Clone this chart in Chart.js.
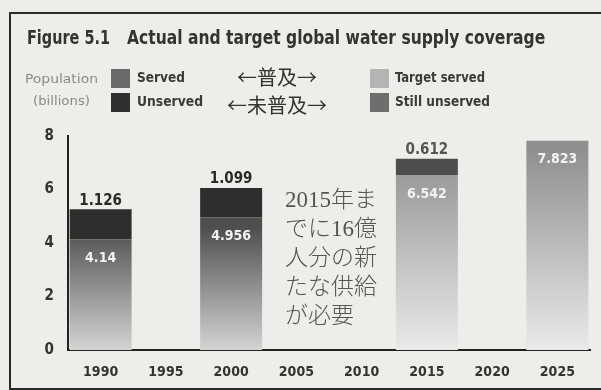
<!DOCTYPE html>
<html><head><meta charset="utf-8">
<script src="https://cdn.jsdelivr.net/npm/chart.js@4.4.0/dist/chart.umd.min.js"></script>
<style>
body{margin:0;background:#ededeb;width:601px;height:390px;overflow:hidden;position:relative;font-family:"Liberation Sans Narrow","DejaVu Sans Condensed",sans-serif;color:#333}
#frame{position:absolute;left:9px;top:12px;width:600px;height:374px;border:2px solid #2b2b2b}
canvas{position:absolute;left:0;top:0}
.t{position:absolute;white-space:nowrap;transform-origin:0 0}
.title{top:26px;font-size:19px;font-weight:bold;color:#333}
.pop{font-size:13px;color:#8a8a8a}
.sw{position:absolute;width:19px;height:19px}
.lg{font-size:14px;font-weight:bold;color:#3a3a3a}
.jp{font-family:"Noto Sans CJK JP";font-size:20px;color:#333}
.note{left:285px;top:185px;font-family:"Liberation Serif","Noto Sans CJK JP";font-size:23px;line-height:29px;color:#555;font-weight:300}
</style></head>
<body>
<div id="frame"></div>
<canvas id="c" width="601" height="390"></canvas>
<div class="t title" data-w="83" style="left:27px">Figure 5.1</div>
<div class="t title" data-w="418" style="left:127px">Actual and target global water supply coverage</div>
<div class="t pop" data-w="73" style="left:25px;top:71px">Population</div>
<div class="t pop" data-w="57" style="left:33px;top:93px">(billions)</div>
<div class="sw" style="left:111px;top:69px;background:#6a6a6a"></div>
<div class="t lg" data-w="48" style="left:137px;top:69px">Served</div>
<div class="sw" style="left:111px;top:93px;background:#303030"></div>
<div class="t lg" data-w="66" style="left:137px;top:93px">Unserved</div>
<div class="t jp" style="left:237px;top:62px">←普及→</div>
<div class="t jp" style="left:227px;top:90px">←未普及→</div>
<div class="sw" style="left:370px;top:69px;background:#b4b4b4"></div>
<div class="t lg" data-w="90" style="left:395px;top:69px">Target served</div>
<div class="sw" style="left:370px;top:93px;background:#6e6e6e"></div>
<div class="t lg" data-w="95" style="left:395px;top:93px">Still unserved</div>
<div class="t note">2015年ま<br>でに16億<br>人分の新<br>たな供給<br>が必要</div>
<script>
'use strict';
const years=['1990','1995','2000','2005','2010','2015','2020','2025'];
const served=[4.14,null,4.956,null,null,null,null,null];
const unserved=[1.126,null,1.099,null,null,null,null,null];
const targetServed=[null,null,null,null,null,6.542,null,7.823];
const stillUnserved=[null,null,null,null,null,0.612,null,null];
const FONT='"Liberation Sans Narrow","DejaVu Sans Condensed",sans-serif';

// squeeze text blocks to the widths
document.querySelectorAll('[data-w]').forEach(el=>{
  const w=el.getBoundingClientRect().width;
  el.style.transform=`scaleX(${(+el.dataset.w/w).toFixed(3)})`;
});

function grad(lo,hi,topVal){
  return ctx=>{
    const ch=ctx.chart,y=ch.scales.y;
    if(!ch.chartArea||!y)return lo;
    const g=ch.ctx.createLinearGradient(0,y.getPixelForValue(0),0,y.getPixelForValue(topVal));
    g.addColorStop(0,lo);g.addColorStop(1,hi);return g;
  };
}

const valueLabels={id:'valueLabels',afterDatasetsDraw(chart){
  const c=chart.ctx;c.save();c.textAlign='center';
  chart.data.datasets.forEach((ds,i)=>{
    chart.getDatasetMeta(i).data.forEach((bar,j)=>{
      const v=ds.data[j];if(!v)return;
      if(i%2===0){
        c.fillStyle='#f2f2f2';c.font='bold 14px '+FONT;c.textBaseline='middle';
        c.fillText(String(v),bar.x,bar.y+19);
      }else{
        c.fillStyle=i===3?'#555':'#2a2a2a';c.font='bold 15px '+FONT;c.textBaseline='bottom';
        c.fillText(String(v),bar.x,bar.y-1);
      }
    });
  });
  c.restore();
}};

new Chart(document.getElementById('c'),{
  type:'bar',
  data:{labels:years,datasets:[
    {label:'Served',data:served,backgroundColor:grad('#d4d4d4','#4e4e4e',4.6)},
    {label:'Unserved',data:unserved,backgroundColor:'#2e2e2e'},
    {label:'Target served',data:targetServed,backgroundColor:grad('#eaeaea','#8e8e8e',7.6)},
    {label:'Still unserved',data:stillUnserved,backgroundColor:'#4e4e4e'}
  ]},
  options:{
    responsive:false,animation:false,devicePixelRatio:1,
    categoryPercentage:0.95,barPercentage:1,
    layout:{padding:{left:2,top:136,right:11,bottom:0}},
    plugins:{legend:{display:false},tooltip:{enabled:false}},
    scales:{
      x:{stacked:true,grid:{display:false,drawTicks:false},border:{color:'#222',width:2},
        ticks:{color:'#333',padding:14,font:{family:FONT,size:14,weight:'bold'}},
        afterFit:s=>{s.height=40;}},
      y:{stacked:true,min:0,max:8,grid:{display:false,drawTicks:false},border:{color:'#222',width:2},
        ticks:{stepSize:2,color:'#333',padding:14,font:{family:FONT,size:15,weight:'bold'}},
        afterFit:s=>{s.width=66;}}
    }
  },
  plugins:[valueLabels]
});
</script>
</body></html>
